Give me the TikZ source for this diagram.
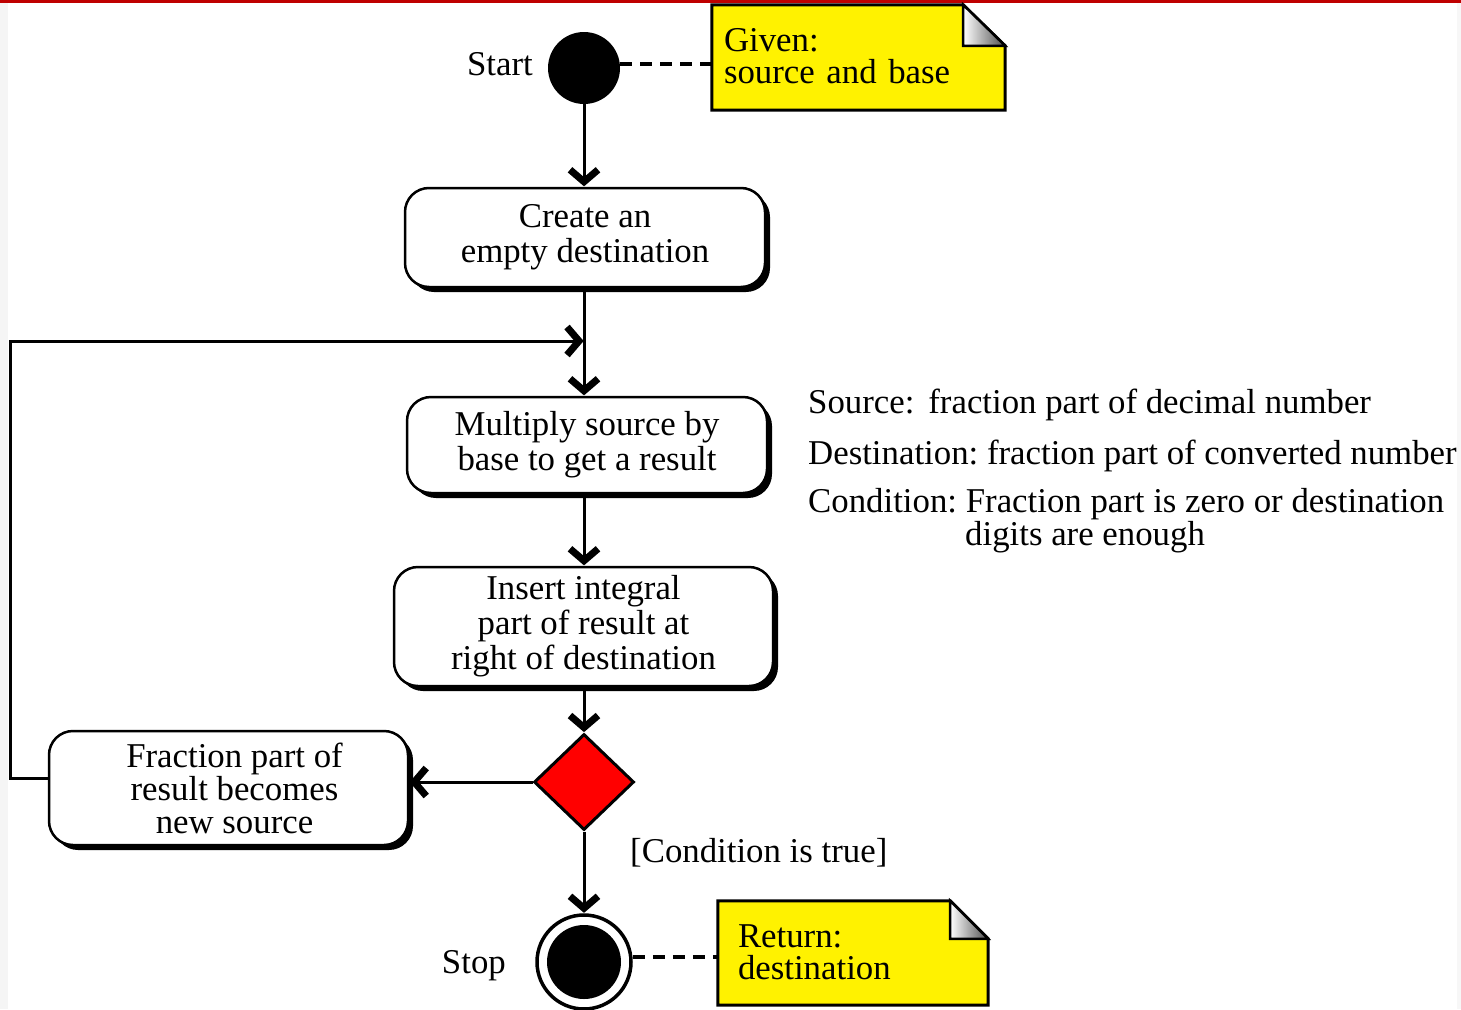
\documentclass[tikz,border=0pt]{standalone}
\usepackage{fontspec}
\setmainfont{Liberation Serif}
\usetikzlibrary{arrows.meta,shapes.geometric,shadows}
\pgfdeclarearrow{
  name=Chev,
  setup code={
    \pgfarrowssettipend{0pt}
    \pgfarrowssetlineend{-7pt}
    \pgfarrowssetbackend{-19pt}
    \pgfarrowssetvisualbackend{-7pt}
    \pgfarrowshullpoint{0pt}{0pt}
    \pgfarrowshullpoint{-19pt}{17pt}
    \pgfarrowshullpoint{-19pt}{-17pt}
  },
  drawing code={
    \pgfsetlinewidth{7pt}
    \pgfsetmiterjoin
    \pgfsetbuttcap
    \pgfsetdash{}{0pt}
    \pgfpathmoveto{\pgfpoint{-17pt}{14pt}}
    \pgfpathlineto{\pgfpoint{-5pt}{0pt}}
    \pgfpathlineto{\pgfpoint{-17pt}{-14pt}}
    \pgfusepathqstroke
  }
}
\begin{document}
\begin{tikzpicture}[x=1pt,y=-1pt,
  every node/.style={font=\fontsize{34.8}{35}\selectfont},
  actbox/.style={draw, line width=2.5pt, fill=white, rounded corners=24pt, align=center,
    inner sep=0pt, drop shadow={shadow xshift=5pt, shadow yshift=-5pt, fill=black, opacity=1}},
  flow/.style={line width=3pt, -Chev},
  notelink/.style={line width=4pt, dash pattern=on 12pt off 8pt},
  notebox/.style={inner sep=0pt, align=left, font=\fontsize{34.8}{32}\selectfont},
  txt/.style={anchor=base west, inner sep=0pt}]
\useasboundingbox (0,0) rectangle (1461,1009);
\fill[white] (0,0) rectangle (1461,1009);
\fill[black!4] (0,0) rectangle (8,1009);
\fill[black!3] (1457,0) rectangle (1461,1009);
\fill[red!75!black] (0,0) rectangle (1461,3);

% start / stop
\node[circle, fill=black, minimum size=72pt, inner sep=0pt] (start) at (584,68) {};
\node[anchor=east, inner sep=0pt] (startlbl) at (533,64) {Start};
\node[circle, draw, line width=3.5pt, fill=white, minimum size=94pt, inner sep=0pt] (stop) at (584,962) {};
\node[circle, fill=black, minimum size=74pt, inner sep=0pt] (stopin) at (584,962) {};
\node[anchor=east, inner sep=0pt] (stoplbl) at (506,966) {Stop};

% activities
\node[actbox, minimum width=360pt, minimum height=99pt] (b1) at (585,237.5) {Create an\\empty destination};
\node[actbox, minimum width=360pt, minimum height=96pt] (b2) at (587,445) {Multiply source by\\base to get a result};
\node[actbox, minimum width=379pt, minimum height=119pt] (b3) at (583.5,626.5) {Insert integral\\part of result at\\right of destination};
\node[actbox, minimum width=359pt, minimum height=114pt,
  label={[xshift=6pt, align=center, inner sep=0pt, font=\fontsize{34.8}{33}\selectfont]center:Fraction part of\\result becomes\\new source}] (b4) at (228.5,788) {};
\node[diamond, draw, line width=3pt, fill=red, minimum width=100pt, minimum height=96pt, inner sep=0pt] (dec) at (584,782) {};

% notes
\node[notebox, minimum width=293pt, minimum height=105pt, text width=269pt] (n1) at (858.5,57.5) {};
\draw[line width=3pt, fill=yellow] (n1.north west) -- ([xshift=-42pt]n1.north east) -- ([yshift=-41pt]n1.north east) -- (n1.south east) -- (n1.south west) -- cycle;
\shade[left color=white, right color=black!70, draw=black, line width=2.5pt] ([xshift=-42pt]n1.north east) -- ([xshift=-42pt,yshift=-41pt]n1.north east) -- ([yshift=-41pt]n1.north east) -- cycle;
\node[notebox, text width=269pt] (n1t) at ([yshift=1pt]n1) {Given:\\source and base};

\node[notebox, minimum width=270pt, minimum height=104pt, text width=230pt] (n2) at (853,953) {};
\draw[line width=3pt, fill=yellow] (n2.north west) -- ([xshift=-38pt]n2.north east) -- ([yshift=-38pt]n2.north east) -- (n2.south east) -- (n2.south west) -- cycle;
\shade[left color=white, right color=black!70, draw=black, line width=2.5pt] ([xshift=-38pt]n2.north east) -- ([xshift=-38pt,yshift=-38pt]n2.north east) -- ([yshift=-38pt]n2.north east) -- cycle;
\node[notebox, text width=230pt] (n2t) at ([yshift=1pt]n2) {Return:\\destination};

% side text
\node[txt] (t1) at (808,413) {Source:\hspace{0.4em}fraction part of decimal number};
\node[txt] (t2) at (808,464) {Destination:\ fraction part of converted number};
\node[txt] (t3) at (808,512) {Condition:\ Fraction part is zero or destination};
\node[txt] (t4) at (965,545) {digits are enough};
\node[anchor=west, inner sep=0pt] (cond) at (630,853) {[Condition is true]};

% connectors
\coordinate (join) at (584,341);
\draw[notelink] (start.east |- 0,64) -- (n1.west |- 0,64);
\draw[notelink] (stop.east |- 0,957) -- (n2.west |- 0,957);
\draw[flow] (start) -- (b1.north -| start);
\draw[flow] (b1.south -| join) -- (b2.north -| join);
\draw[flow] (b2.south -| join) -- (b3.north -| join);
\draw[flow] (b3.south -| join) -- (dec.north);
\draw[flow] (dec.west) -- (b4.east |- dec.west);
\draw[flow] (dec.south) -- (stop.north);
\draw[flow] ([yshift=10pt]b4.west) -| (10,778) |- (join);
\end{tikzpicture}
\end{document}
